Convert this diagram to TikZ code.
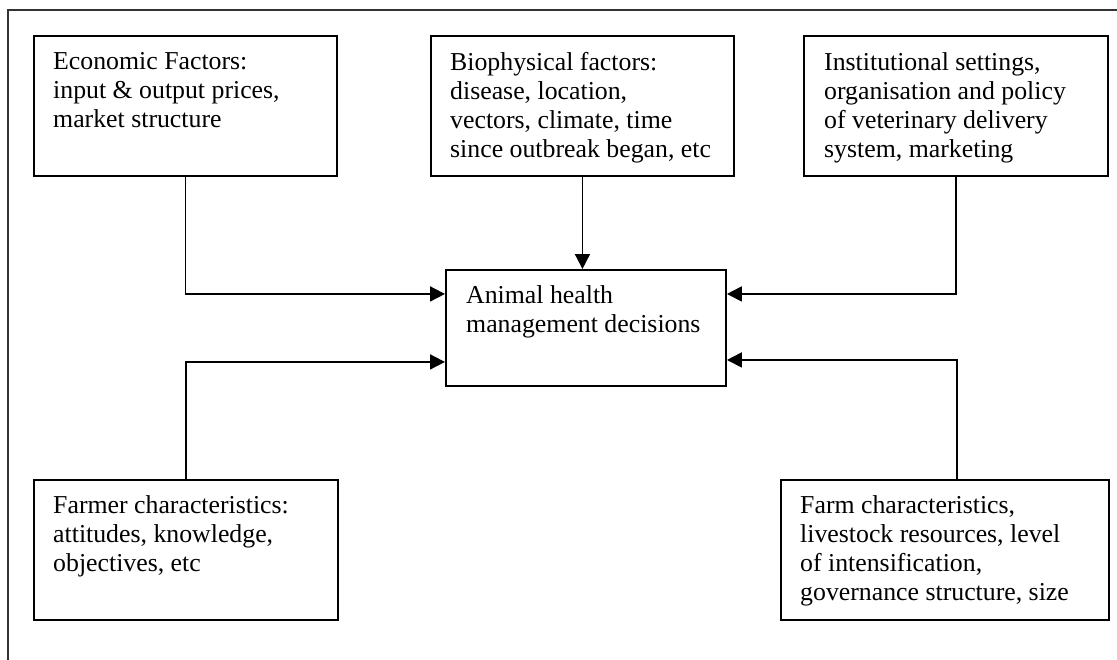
\documentclass[tikz,border=0pt]{standalone}
\usepackage{fontspec}
\setmainfont{Liberation Serif}
\usetikzlibrary{arrows.meta}
\begin{document}
\begin{tikzpicture}[x=1pt,y=-1pt,
  box/.style={draw, line width=1.9pt, inner sep=0pt, anchor=north west},
  txt/.style={inner sep=0pt, anchor=north west, align=left, font=\fontsize{25.8}{29}\selectfont},
  arr/.style={line width=1.8pt, -{Triangle[length=15pt,width=15pt]}}]
\useasboundingbox (0,0) rectangle (1117,659);
\draw[line width=1.8pt, black!80] (8,665) -- (8,10) -- (1125,10);
% boxes
\node[box, minimum width=303pt, minimum height=140pt] (econ) at (33,35) {};
\node[box, minimum width=303pt, minimum height=140pt] (bio) at (430,35) {};
\node[box, minimum width=304pt, minimum height=140pt] (inst) at (803,35) {};
\node[box, minimum width=280pt, minimum height=116pt] (dec) at (445,269) {};
\node[box, minimum width=304pt, minimum height=140pt] (farmer) at (33,479) {};
\node[box, minimum width=328pt, minimum height=140pt] (farm) at (780,479) {};
% texts
\node[txt] (econ-t) at (53,52.6) {Economic Factors:\\input \& output prices,\\market structure};
\node[txt] (bio-t) at (450,52.6) {Biophysical factors:\\disease, location,\\vectors, climate, time\\since outbreak began, etc};
\node[txt] (inst-t) at (824,52.6) {Institutional settings,\\organisation and policy\\of veterinary delivery\\system, marketing};
\node[txt] (dec-t) at (466,285.6) {Animal health\\management decisions};
\node[txt] (farmer-t) at (53,495.6) {Farmer characteristics:\\attitudes, knowledge,\\objectives, etc};
\node[txt] (farm-t) at (800,495.6) {Farm characteristics,\\livestock resources, level\\of intensification,\\governance structure, size};
% connectors
\draw[arr] (econ.south) |- ([yshift=34pt]dec.west);
\draw[arr] (bio.south) -- (bio.south |- dec.north);
\draw[arr] (inst.south) |- ([yshift=34pt]dec.east);
\draw[arr] (farmer.north) |- ([yshift=-34pt]dec.west);
\draw[arr] ([xshift=12pt]farm.north) |- ([yshift=-32pt]dec.east);
\end{tikzpicture}
\end{document}
